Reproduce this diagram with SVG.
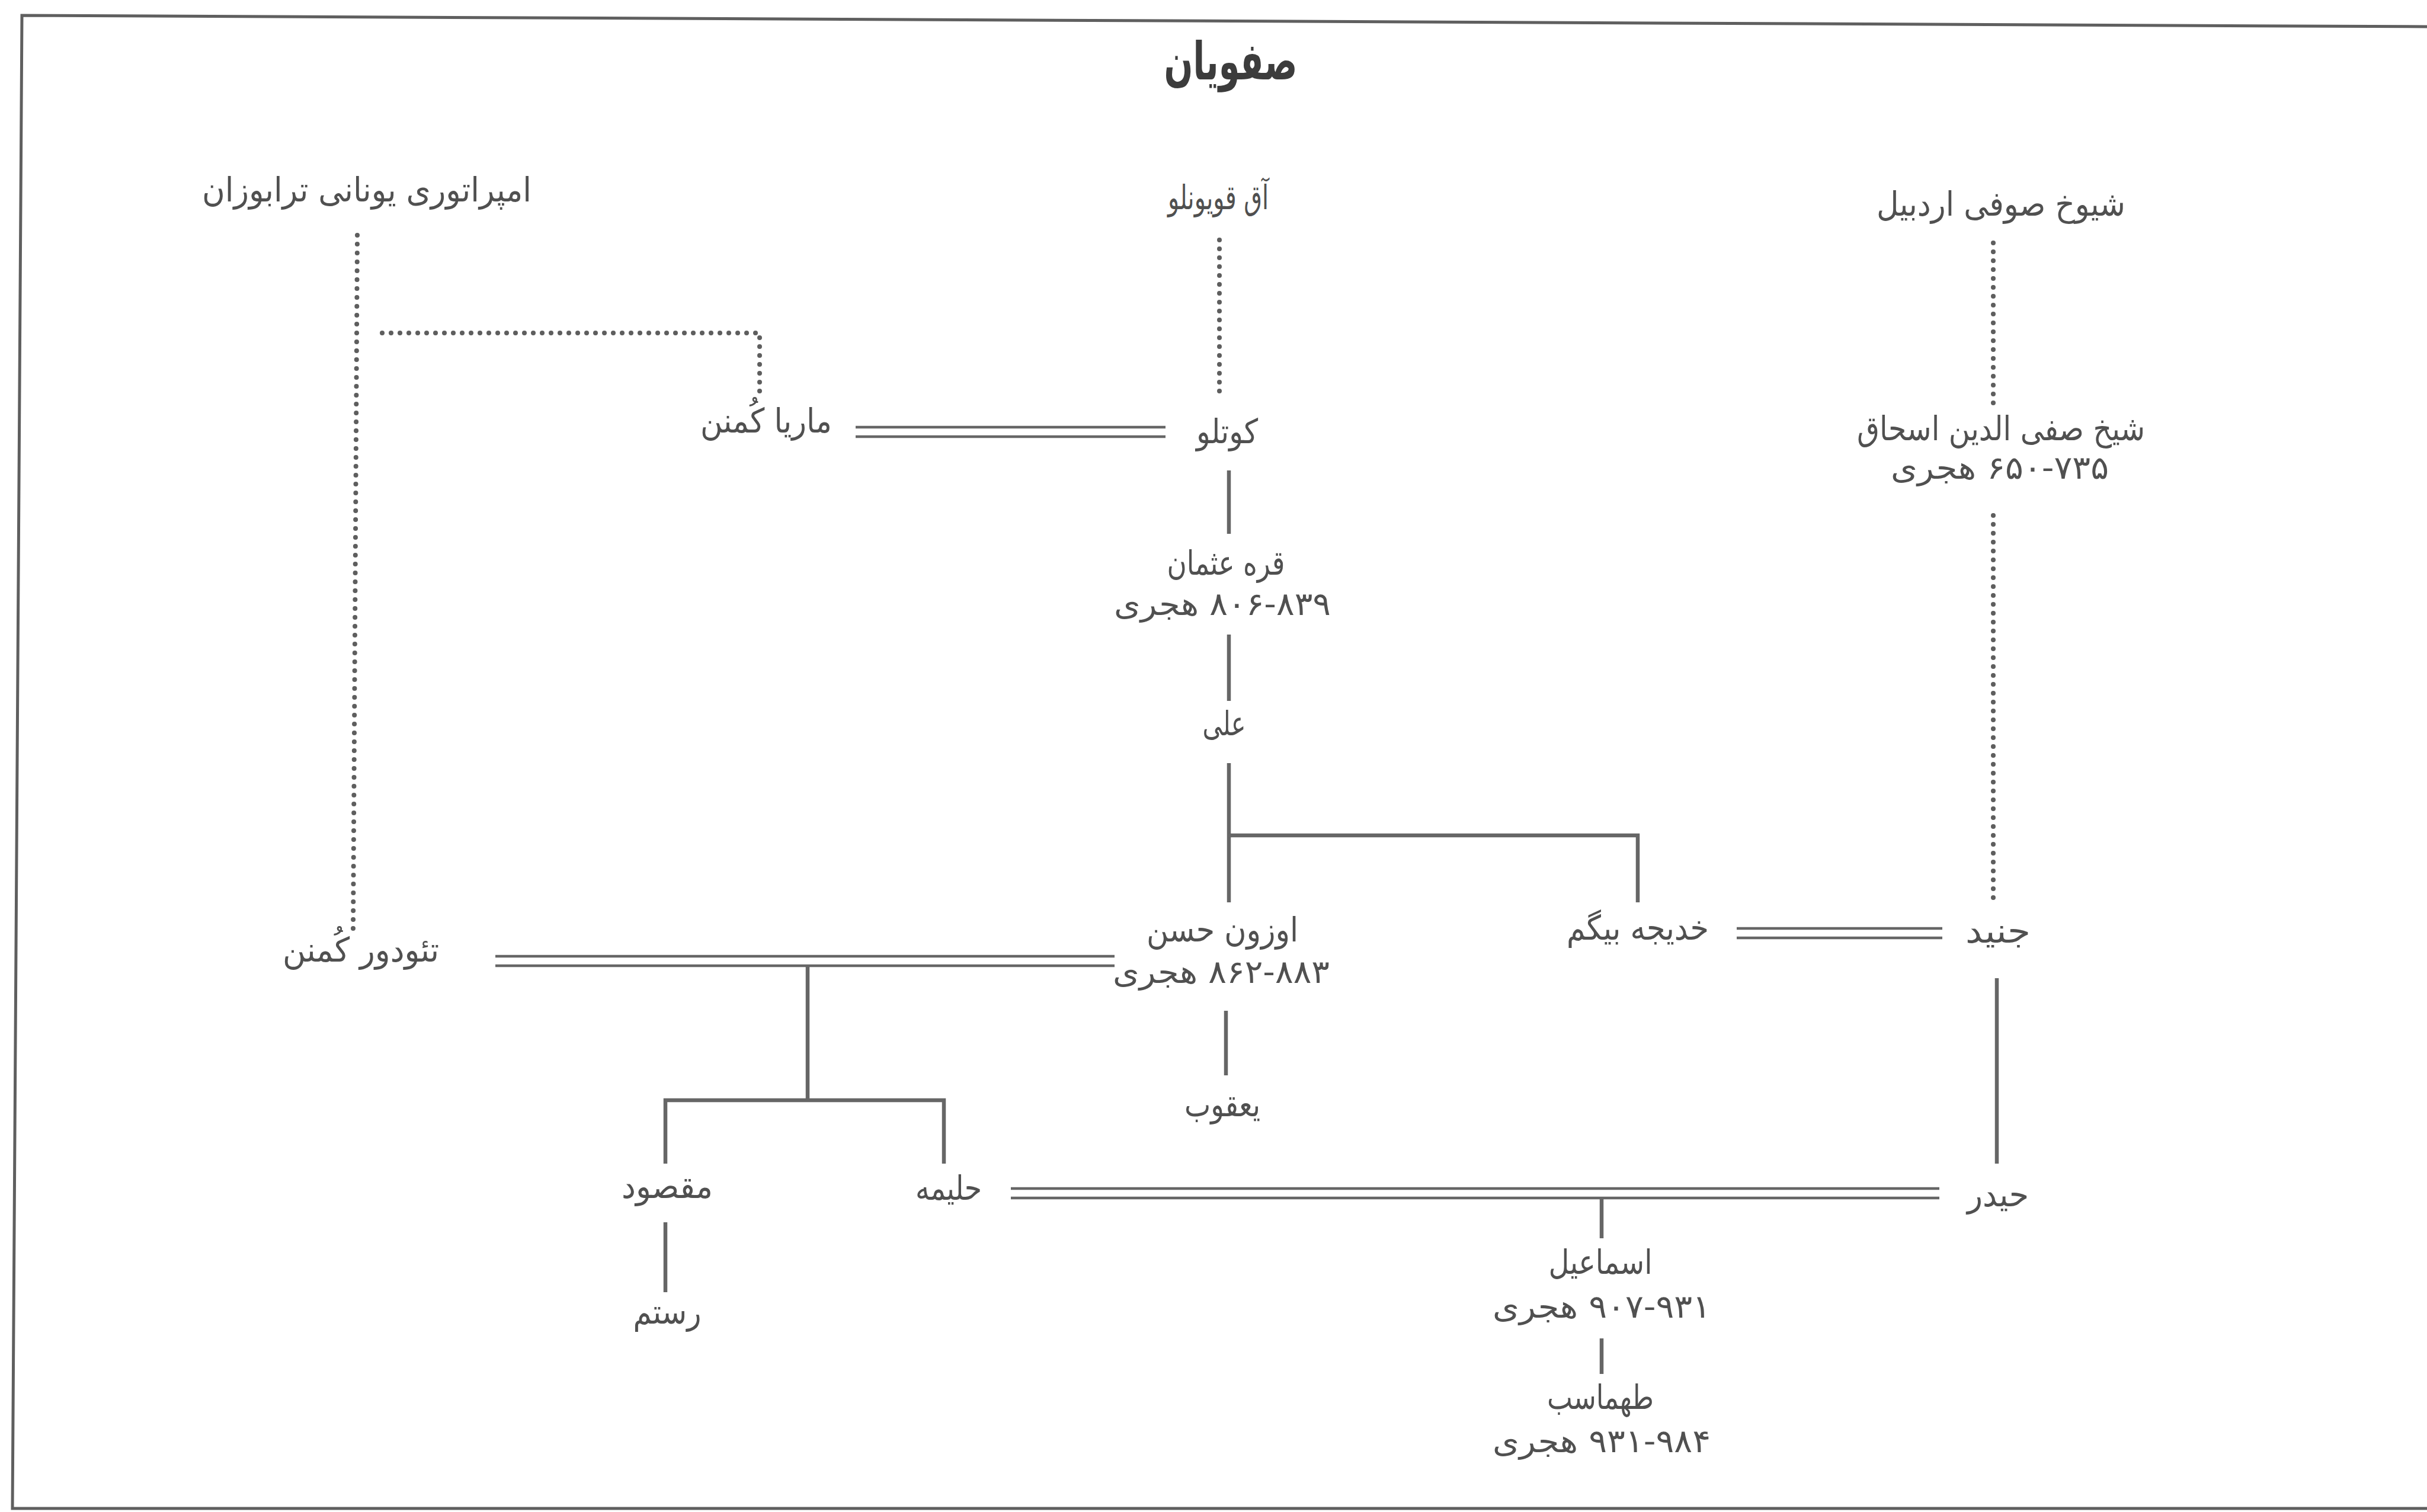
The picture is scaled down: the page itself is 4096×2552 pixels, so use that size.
<svg xmlns="http://www.w3.org/2000/svg" width="4096" height="2552" viewBox="0 0 4096 2552">
  <style>
    .bg { fill: #ffffff; }
    .frame { fill: none; stroke: #5f5f5f; stroke-width: 5; }
    .solid { fill: none; stroke: #666666; stroke-width: 6.5; stroke-linecap: butt; }
    .marriage { fill: none; stroke: #666666; stroke-width: 4.5; }
    .dotted { fill: none; stroke: #5e5e5e; stroke-width: 8; stroke-linecap: round; stroke-dasharray: 0 15; }
    .name { font-family: "DejaVu Sans", "Noto Sans", sans-serif; font-size: 57px; fill: #505050; text-anchor: middle; direction: rtl; }
    .date { font-family: "DejaVu Sans", "Noto Sans", sans-serif; font-size: 54px; fill: #505050; text-anchor: middle; direction: rtl; }
    .title { font-family: "DejaVu Sans", "Noto Sans", sans-serif; font-size: 88px; font-weight: bold; fill: #3c3c3c; text-anchor: middle; direction: rtl; }
  </style>

  <rect class="bg" x="0" y="0" width="4096" height="2552"/>
  <path class="frame" d="M4096 45 L37 26 L21 2546 L4096 2546"/>

  <text class="title" x="2077" y="134" textLength="225" lengthAdjust="spacingAndGlyphs">صفویان</text>

  <!-- connectors -->
  <g id="connectors">
    <!-- dotted lineage lines -->
    <path class="dotted" d="M603 397 L596 1567"/>
    <path class="dotted" d="M645 562 H1282 V666"/>
    <path class="dotted" d="M2058 405 V674"/>
    <path class="dotted" d="M3364 410 V684"/>
    <path class="dotted" d="M3364 870 V1528"/>

    <!-- marriages (double lines) -->
    <path class="marriage" d="M1444 721 H1967 M1444 737 H1967"/>
    <path class="marriage" d="M836 1614 H1881 M836 1630 H1881"/>
    <path class="marriage" d="M2931 1567 H3278 M2931 1583 H3278"/>
    <path class="marriage" d="M1706 2006 H3273 M1706 2022 H3273"/>

    <!-- descent lines -->
    <path class="solid" d="M2074 794 V901"/>
    <path class="solid" d="M2074 1071 V1183"/>
    <path class="solid" d="M2074 1288 V1523"/>
    <path class="solid" d="M2074 1410 H2764 V1523"/>
    <path class="solid" d="M2069 1706 V1815"/>
    <path class="solid" d="M1363 1630 V1857"/>
    <path class="solid" d="M1123 1964 V1857 H1593 V1964"/>
    <path class="solid" d="M1123 2063 V2181"/>
    <path class="solid" d="M3370 1651 V1964"/>
    <path class="solid" d="M2703 2022 V2090"/>
    <path class="solid" d="M2703 2259 V2319"/>
  </g>

  <!-- people and houses -->
  <g id="n-trebizond"><text class="name" x="619" y="340" textLength="556" lengthAdjust="spacingAndGlyphs">امپراتوری یونانی ترابوزان</text></g>
  <g id="n-aqqoyunlu"><text class="name" x="2056" y="353" textLength="170" lengthAdjust="spacingAndGlyphs">آق قویونلو</text></g>
  <g id="n-ardabil"><text class="name" x="3377" y="364" textLength="420" lengthAdjust="spacingAndGlyphs">شیوخ صوفی اردبیل</text></g>
  <g id="n-maria"><text class="name" x="1293" y="730" textLength="222" lengthAdjust="spacingAndGlyphs">ماریا کُمنن</text></g>
  <g id="n-kutlu"><text class="name" x="2071" y="748" textLength="104" lengthAdjust="spacingAndGlyphs">کوتلو</text></g>
  <g id="n-safi">
    <text class="name" x="3377" y="743" textLength="486" lengthAdjust="spacingAndGlyphs">شیخ صفی الدین اسحاق</text>
    <text class="date" x="3375" y="808" textLength="368" lengthAdjust="spacingAndGlyphs">۶۵۰-۷۳۵ هجری</text>
  </g>
  <g id="n-qara-osman">
    <text class="name" x="2069" y="970" textLength="199" lengthAdjust="spacingAndGlyphs">قره عثمان</text>
    <text class="date" x="2063" y="1038" textLength="366" lengthAdjust="spacingAndGlyphs">۸۰۶-۸۳۹ هجری</text>
  </g>
  <g id="n-ali"><text class="name" x="2066" y="1241" textLength="73" lengthAdjust="spacingAndGlyphs">علی</text></g>
  <g id="n-theodore"><text class="name" x="609" y="1623" textLength="264" lengthAdjust="spacingAndGlyphs">تئودور کُمنن</text></g>
  <g id="n-uzun-hasan">
    <text class="name" x="2063" y="1589" textLength="256" lengthAdjust="spacingAndGlyphs">اوزون حسن</text>
    <text class="date" x="2061" y="1659" textLength="366" lengthAdjust="spacingAndGlyphs">۸۶۲-۸۸۳ هجری</text>
  </g>
  <g id="n-khadija"><text class="name" x="2764" y="1586" textLength="240" lengthAdjust="spacingAndGlyphs">خدیجه بیگم</text></g>
  <g id="n-junayd"><text class="name" x="3372" y="1591" textLength="110" lengthAdjust="spacingAndGlyphs">جنید</text></g>
  <g id="n-yaqub"><text class="name" x="2063" y="1884" textLength="128" lengthAdjust="spacingAndGlyphs">یعقوب</text></g>
  <g id="n-maqsud"><text class="name" x="1126" y="2022" textLength="154" lengthAdjust="spacingAndGlyphs">مقصود</text></g>
  <g id="n-halima"><text class="name" x="1601" y="2025" textLength="112" lengthAdjust="spacingAndGlyphs">حلیمه</text></g>
  <g id="n-haydar"><text class="name" x="3372" y="2036" textLength="104" lengthAdjust="spacingAndGlyphs">حیدر</text></g>
  <g id="n-ismail">
    <text class="name" x="2701" y="2150" textLength="175" lengthAdjust="spacingAndGlyphs">اسماعیل</text>
    <text class="date" x="2703" y="2224" textLength="368" lengthAdjust="spacingAndGlyphs">۹۰۷-۹۳۱ هجری</text>
  </g>
  <g id="n-tahmasp">
    <text class="name" x="2701" y="2378" textLength="180" lengthAdjust="spacingAndGlyphs">طهماسب</text>
    <text class="date" x="2703" y="2451" textLength="368" lengthAdjust="spacingAndGlyphs">۹۳۱-۹۸۴ هجری</text>
  </g>
  <g id="n-rostam"><text class="name" x="1126" y="2234" textLength="115" lengthAdjust="spacingAndGlyphs">رستم</text></g>
</svg>
